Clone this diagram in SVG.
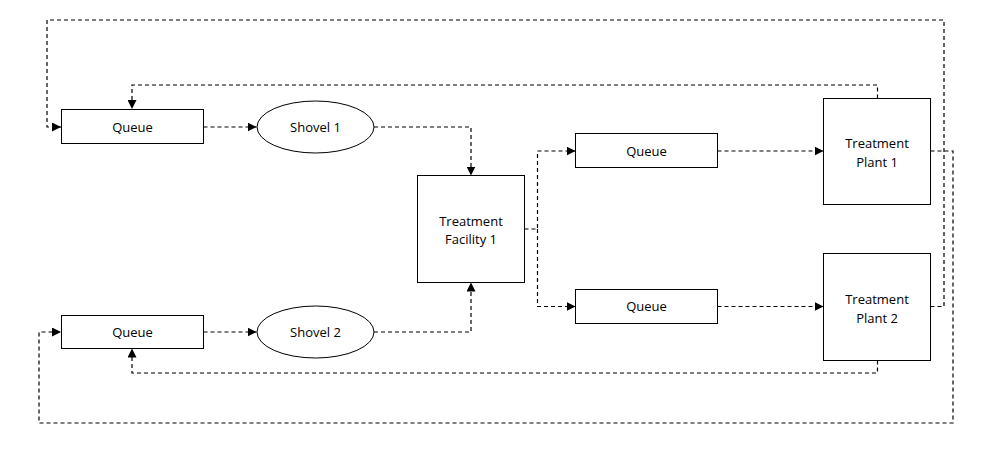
<svg xmlns="http://www.w3.org/2000/svg" width="988" height="470" viewBox="0 0 988 470">
<defs>
<marker id="arr" viewBox="0 0 10 10" refX="10" refY="5" markerWidth="9" markerHeight="9" markerUnits="userSpaceOnUse" orient="auto">
<path d="M0,0 L10,5 L0,10 z" fill="#000"/>
</marker>
</defs>
<style>
.box{fill:#fff;stroke:#000;stroke-width:1}
.lbl{font-family:"Open Sans","Liberation Sans",sans-serif;font-size:13px;fill:#000;text-anchor:middle}
.c{fill:none;stroke:#000;stroke-width:1.2;stroke-dasharray:4 3}
.a{marker-end:url(#arr)}
</style>
<rect width="988" height="470" fill="#fff"/>
<g id="connectors">
<path class="c a" d="M203.5,127 H256.5"/>
<path class="c a" d="M374,127 H471 V175.5"/>
<path class="c a" d="M203.5,332 H256.5"/>
<path class="c a" d="M374,332 H471 V282.5"/>
<path class="c a" d="M524.5,229 H537.5 V151 H575.5"/>
<path class="c a" d="M537.5,229 V306.5 H575.5"/>
<path class="c a" d="M717.5,151 H823.5"/>
<path class="c a" d="M717.5,306.5 H823.5"/>
<path class="c a" d="M877.5,98.5 V85 H132 V109"/>
<path class="c a" d="M877.5,360.5 V373 H132 V348.5"/>
<path class="c a" d="M930.5,306.5 H944 V20 H47 V127 H61"/>
<path class="c a" d="M930.5,151 H953 V423 H39 V332 H61"/>
</g>
<g id="queue1">
<rect class="box" x="61.5" y="109.5" width="142" height="34"/>
<text class="lbl" x="132.5" y="131.5">Queue</text>
</g>
<g id="shovel1">
<ellipse class="box" cx="315.5" cy="127" rx="58.5" ry="26"/>
<text class="lbl" x="315.5" y="131.5">Shovel 1</text>
</g>
<g id="queue2">
<rect class="box" x="61.5" y="315.5" width="142" height="33"/>
<text class="lbl" x="132.5" y="336.5">Queue</text>
</g>
<g id="shovel2">
<ellipse class="box" cx="315.5" cy="332" rx="58.5" ry="26"/>
<text class="lbl" x="315.5" y="336.5">Shovel 2</text>
</g>
<g id="facility1">
<rect class="box" x="417.5" y="175.5" width="107" height="107"/>
<text class="lbl" x="471" y="225.5">Treatment</text>
<text class="lbl" x="471" y="243.5">Facility 1</text>
</g>
<g id="queue3">
<rect class="box" x="575.5" y="133.5" width="142" height="34"/>
<text class="lbl" x="646.5" y="155.5">Queue</text>
</g>
<g id="queue4">
<rect class="box" x="575.5" y="289.5" width="142" height="34"/>
<text class="lbl" x="646.5" y="311">Queue</text>
</g>
<g id="plant1">
<rect class="box" x="823.5" y="98.5" width="107" height="106"/>
<text class="lbl" x="877" y="148">Treatment</text>
<text class="lbl" x="877" y="166.5">Plant 1</text>
</g>
<g id="plant2">
<rect class="box" x="823.5" y="253.5" width="107" height="107"/>
<text class="lbl" x="877" y="304">Treatment</text>
<text class="lbl" x="877" y="322.5">Plant 2</text>
</g>
</svg>
